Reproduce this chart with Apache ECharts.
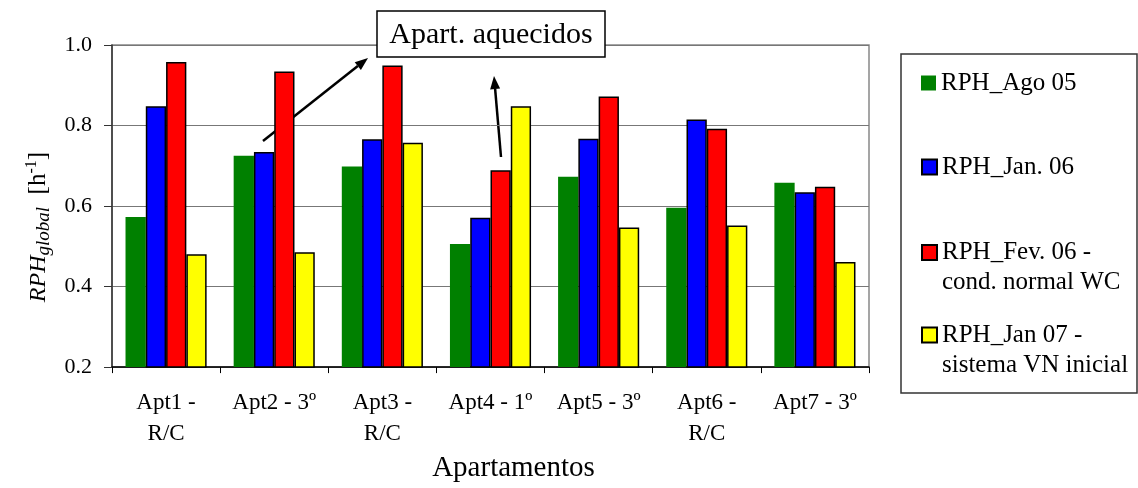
<!DOCTYPE html>
<html>
<head>
<meta charset="utf-8">
<script src="https://cdn.jsdelivr.net/npm/echarts@6/dist/echarts.min.js"></script>
<style>
  html, body { margin: 0; padding: 0; background: #fff; }
  #chart { width: 1138px; height: 488px; }
</style>
</head>
<body>
<div id="chart"></div>
<script>
// Apartments and the air-change rate (RPH, h^-1) measured in each campaign
const categories = ['Apt1 -\nR/C', 'Apt2 - 3º', 'Apt3 -\nR/C', 'Apt4 - 1º', 'Apt5 - 3º', 'Apt6 -\nR/C', 'Apt7 - 3º'];
const seriesNames = ['RPH_Ago 05', 'RPH_Jan. 06', 'RPH_Fev. 06 -\ncond. normal WC', 'RPH_Jan 07 -\nsistema VN inicial'];
const rphAgo05 = [0.573, 0.725, 0.698, 0.506, 0.673, 0.596, 0.658];
const rphJan06 = [0.848, 0.734, 0.766, 0.571, 0.767, 0.815, 0.634];
const rphFev06 = [0.958, 0.934, 0.949, 0.689, 0.872, 0.792, 0.648];
const rphJan07 = [0.480, 0.485, 0.757, 0.848, 0.547, 0.552, 0.461];
const seriesColors = ['#008000', '#0000ff', '#ff0000', '#ffff00'];
const yMin = 0.2, yMax = 1.0, yStep = 0.2;
const annotationText = 'Apart. aquecidos';

const FONT = '"Liberation Serif", "Times New Roman", serif';
const chart = echarts.init(document.getElementById('chart'), null, { renderer: 'canvas' });

const values = [rphAgo05, rphJan06, rphFev06, rphJan07];
const series = values.map((data, i) => ({
  name: seriesNames[i],
  type: 'bar',
  data: data,
  barGap: '0%',
  barCategoryGap: '25%',
  itemStyle: {
    color: seriesColors[i],
    borderColor: i === 0 ? seriesColors[i] : '#000',
    borderWidth: i === 0 ? 0 : 1.5
  },
  emphasis: { disabled: true }
}));

// one legend block per series; a leading blank line keeps the icon beside the first text line
const LEGEND_LINE = 30;
const legendCenters = [83, 167, 252.5, 335];
const legends = seriesNames.map((name, i) => {
  const multi = name.indexOf('\n') >= 0;
  return {
    data: [name],
    left: 921,
    top: legendCenters[i] - (multi ? 1.5 : 0.5) * LEGEND_LINE,
    padding: 0,
    itemWidth: 15,
    itemHeight: 15,
    selectedMode: false,
    icon: 'rect',
    formatter: n => (multi ? '\n' + n : n),
    textStyle: {
      fontFamily: FONT,
      fontSize: 25,
      color: '#000',
      lineHeight: LEGEND_LINE
    }
  };
});

function arrow(x1, y1, x2, y2) {
  const ang = Math.atan2(y2 - y1, x2 - x1);
  const len = 13, half = 5;
  const bx = x2 - len * Math.cos(ang), by = y2 - len * Math.sin(ang);
  const px = -Math.sin(ang) * half, py = Math.cos(ang) * half;
  return {
    type: 'group',
    z: 100,
    children: [
      { type: 'line', shape: { x1: x1, y1: y1, x2: bx, y2: by }, style: { stroke: '#000', lineWidth: 2.5 } },
      { type: 'polygon', shape: { points: [[x2, y2], [bx + px, by + py], [bx - px, by - py]] }, style: { fill: '#000' } }
    ]
  };
}

chart.setOption({
  backgroundColor: '#fff',
  animation: false,
  textStyle: { fontFamily: FONT },
  grid: {
    left: 112, right: 269, top: 45, bottom: 118,
    show: true, borderColor: '#888', borderWidth: 1.5, backgroundColor: 'transparent'
  },
  legend: legends,
  xAxis: {
    type: 'category',
    data: categories,
    name: 'Apartamentos',
    nameLocation: 'middle',
    nameGap: 86,
    nameTextStyle: { fontFamily: FONT, fontSize: 29, color: '#000', padding: [0, 0, 0, 46] },
    axisLine: { lineStyle: { color: '#000', width: 1.5 } },
    axisTick: { show: true, length: 6, lineStyle: { color: '#000' } },
    axisLabel: { interval: 0, fontFamily: FONT, fontSize: 23, color: '#000', lineHeight: 31, margin: 20 }
  },
  yAxis: {
    type: 'value',
    min: yMin, max: yMax, interval: yStep,
    name: '{i|RPH}{s|global}{n|  [h}{p|-1}{n|]}',
    nameLocation: 'middle',
    nameRotate: 90,
    nameGap: 56,
    nameTextStyle: {
      padding: [0, 42, 0, 0],
      rich: {
        i: { fontFamily: FONT, fontSize: 24, fontStyle: 'italic', color: '#000', lineHeight: 30 },
        s: { fontFamily: FONT, fontSize: 19, fontStyle: 'italic', color: '#000', lineHeight: 19, verticalAlign: 'bottom' },
        n: { fontFamily: FONT, fontSize: 25, color: '#000', lineHeight: 30 },
        p: { fontFamily: FONT, fontSize: 16, color: '#000', lineHeight: 16, verticalAlign: 'top' }
      }
    },
    axisLine: { show: true, lineStyle: { color: '#333', width: 1.5 } },
    axisTick: { show: true, length: 8, lineStyle: { color: '#333' } },
    axisLabel: { fontFamily: FONT, fontSize: 22, color: '#000', margin: 20, formatter: v => v.toFixed(1) },
    splitLine: { show: true, lineStyle: { color: '#777', width: 1 } }
  },
  graphic: [
    { type: 'rect', z: 90, shape: { x: 901, y: 54, width: 236, height: 339 }, style: { fill: 'none', stroke: '#333', lineWidth: 1.5 } },
    { type: 'rect', z: 100, shape: { x: 377, y: 11, width: 228, height: 46 }, style: { fill: '#fff', stroke: '#000', lineWidth: 1.5 } },
    { type: 'text', z: 101, x: 491, y: 35, style: { text: annotationText, fontFamily: FONT, fontSize: 30, fill: '#000', align: 'center', verticalAlign: 'middle' } },
    arrow(263, 141, 368, 58),
    arrow(501, 157, 494, 76)
  ],
  series: series
});
</script>
</body>
</html>
